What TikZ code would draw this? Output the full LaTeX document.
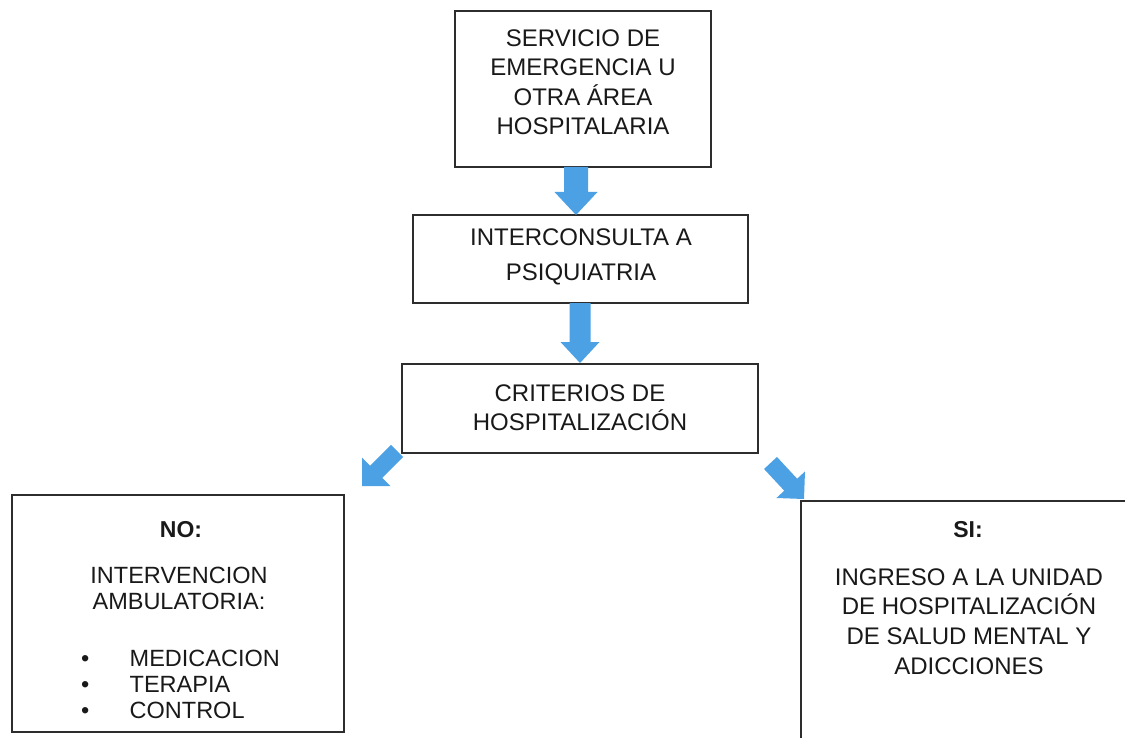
\documentclass[tikz,border=0pt]{standalone}
\usepackage{fontspec}
\setmainfont{Liberation Sans}
\usetikzlibrary{calc}
\definecolor{arrowblue}{RGB}{76,160,228}
\definecolor{boxline}{RGB}{45,45,45}
\newcommand{\blockarrow}[5]{%
  \coordinate (ah) at ($(#2)!#5!(#1)$);
  \fill[arrowblue] ($(#1)!#3!90:(#2)$) -- ($(ah)!#3!90:(#2)$) -- ($(ah)!#4!90:(#2)$) -- (#2)
    -- ($(ah)!#4!-90:(#2)$) -- ($(ah)!#3!-90:(#2)$) -- ($(#1)!#3!-90:(#2)$) -- cycle;}
\begin{document}
\begin{tikzpicture}[x=1pt,y=-1pt,
  box/.style={draw=boxline, line width=1.6pt, rectangle, inner sep=0pt},
  txt/.style={align=center, inner sep=0pt, font=\fontsize{24}{29.5}\selectfont, text=black!90},
  head/.style={inner sep=0pt, font=\fontsize{23}{28}\selectfont\bfseries, text=black!90}]
\clip (0,0) rectangle (1125,738);
\fill[white] (0,0) rectangle (1125,738);
% boxes
\node[box, minimum width=256pt, minimum height=156pt] (b1) at (583,89) {};
\node[box, minimum width=335pt, minimum height=88pt] (b2) at (580.5,259) {};
\node[box, minimum width=356pt, minimum height=89pt] (b3) at (580,408.5) {};
\node[box, minimum width=332pt, minimum height=237pt] (bno) at (178,613.5) {};
\node[box, minimum width=334pt, minimum height=270pt] (bsi) at (968,636) {};
% texts
\node[txt] (t1) at (583,82) {SERVICIO DE\\EMERGENCIA U\\OTRA ÁREA\\HOSPITALARIA};
\node[txt, font=\fontsize{24}{35}\selectfont] (t2) at (581,256.5) {INTERCONSULTA A\\PSIQUIATRIA};
\node[txt, font=\fontsize{24}{29}\selectfont] (t3) at (580,408) {CRITERIOS DE\\HOSPITALIZACIÓN};
\node[head] (hno) at (181,529.5) {NO:};
\node[txt, font=\fontsize{23.5}{26}\selectfont] (tno) at (179,588) {INTERVENCION\\AMBULATORIA:};
\node[txt, align=left, anchor=west, font=\fontsize{23.5}{26}\selectfont] (lst) at (81,684)
  {\makebox[48.5pt][l]{•}MEDICACION\\\makebox[48.5pt][l]{•}TERAPIA\\\makebox[48.5pt][l]{•}CONTROL};
\node[head] (hsi) at (968,529.5) {SI:};
\node[txt, font=\fontsize{24}{29.8}\selectfont] (tsi) at (969,621.5) {INGRESO A LA UNIDAD\\DE HOSPITALIZACIÓN\\DE SALUD MENTAL Y\\ADICCIONES};
% block arrows
\coordinate (a1s) at (576,167);
\coordinate (a1e) at (576,215);
\coordinate (a2s) at (580,303);
\coordinate (a2e) at (580,363);
\coordinate (a3s) at (397,451);
\coordinate (a3e) at (362,486);
\coordinate (a4s) at (770.5,463);
\coordinate (a4e) at (804,499);
\blockarrow{a1s}{a1e}{12pt}{21.5pt}{23pt}
\blockarrow{a2s}{a2e}{10.5pt}{19.5pt}{21pt}
\blockarrow{a3s}{a3e}{8.5pt}{20pt}{20pt}
\blockarrow{a4s}{a4e}{8.8pt}{19.5pt}{19.5pt}
\end{tikzpicture}
\end{document}
